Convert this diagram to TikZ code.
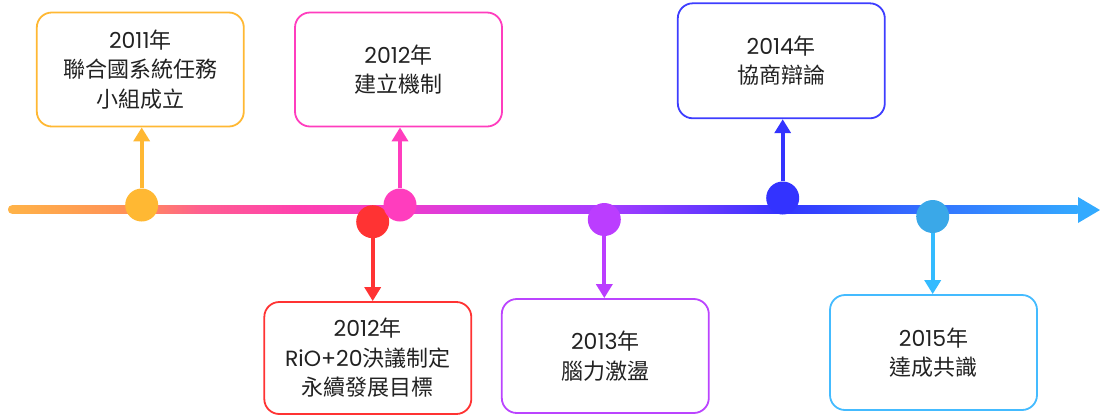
\documentclass[tikz,border=0pt]{standalone}
\usepackage{fontspec}
\setmainfont{Noto Sans CJK TC}
\newfontfamily\lat{Poppins}
\usetikzlibrary{arrows.meta}
\definecolor{txt}{HTML}{222222}
\definecolor{corange}{HTML}{FFB833}
\definecolor{cpink}{HTML}{FF3DBE}
\definecolor{cred}{HTML}{FF3333}
\definecolor{cpurple}{HTML}{BB3DFF}
\definecolor{cblue}{HTML}{3333FF}
\definecolor{clblue}{HTML}{3AA8E8}
\definecolor{alblue}{HTML}{33BBFF}
\definecolor{bpurple}{HTML}{BB44FF}
\definecolor{bblue}{HTML}{3D3DFF}
\definecolor{blblue}{HTML}{44BBFF}
\definecolor{tA}{HTML}{FFB347}
\definecolor{tB}{HTML}{FF8C5A}
\definecolor{tC}{HTML}{FF5F8F}
\definecolor{tD}{HTML}{FF40B0}
\definecolor{tE}{HTML}{F03CC8}
\definecolor{tF}{HTML}{C83CF0}
\definecolor{tG}{HTML}{A83CFF}
\definecolor{tH}{HTML}{6A38FF}
\definecolor{tI}{HTML}{3333FF}
\definecolor{tJ}{HTML}{3366FF}
\definecolor{tK}{HTML}{33AAFF}
\pgfdeclarehorizontalshading{tlshade}{100bp}{color(0bp)=(tA); color(25bp)=(tA); color(31.2bp)=(tB); color(33.9bp)=(tC); color(38.6bp)=(tD); color(43.3bp)=(tE); color(47.9bp)=(tF); color(52.8bp)=(tG); color(57.2bp)=(tH); color(61bp)=(tI); color(66.5bp)=(tJ); color(75bp)=(tK); color(100bp)=(tK)}
\begin{document}
\begin{tikzpicture}[x=1pt,y=-1pt,
  evbox/.style={draw=#1, line width=1.8pt, rounded corners=15pt, fill=white,
    minimum width=207pt, minimum height=114pt, align=center, text=txt,
    font=\fontsize{22}{29.5}\selectfont, inner sep=0pt},
  evdot/.style={circle, fill=#1, minimum size=33pt, inner sep=0pt},
  conn/.style={draw=#1, line width=4pt, -{Triangle[length=14pt,width=16pt]}}]
\useasboundingbox (0,0) rectangle (1100,416);
% timeline
\coordinate (tlstart) at (8,209.5);
\coordinate (tlend) at (1081,209.5);
\coordinate (tltip) at (1100,210);
\shade[shading=tlshade, rounded corners=4pt] ([yshift=-4.3pt]tlstart) rectangle ([yshift=4.3pt]tlend);
\fill[tK] ([xshift=-22pt,yshift=13pt]tltip) -- (tltip) -- ([xshift=-22pt,yshift=-13pt]tltip) -- cycle;
% boxes
\node[evbox=corange] (b1) at (140.3,69.5) {{\lat 2011}年\\聯合國系統任務\\小組成立};
\node[evbox=cpink] (b2) at (398.5,69.5) {{\lat 2012}年\\建立機制};
\node[evbox=cred, minimum height=112pt] (b3) at (367.8,358) {{\lat 2012}年\\{\lat RiO+20}決議制定\\永續發展目標};
\node[evbox=bpurple] (b4) at (605.3,356) {{\lat 2013}年\\腦力激盪};
\node[evbox=bblue, minimum height=115pt] (b5) at (781.3,60.8) {{\lat 2014}年\\協商辯論};
\node[evbox=blblue, minimum height=115pt] (b6) at (933.5,352.5) {{\lat 2015}年\\達成共識};
% dots
\node[evdot=corange] (c1) at (141.7,205) {};
\node[evdot=cred] (c3) at (372.7,221.7) {};
\node[evdot=cpink] (c2) at (400,205) {};
\node[evdot=cpurple] (c4) at (604.3,219.5) {};
\node[evdot=cblue] (c5) at (782.7,198) {};
\node[evdot=clblue] (c6) at (932.7,216.5) {};
% connectors
\draw[conn=corange] (c1.north) -- (c1.north |- b1.south);
\draw[conn=cpink] (c2.north) -- (c2.north |- b2.south);
\draw[conn=cred] (c3.south) -- (c3.south |- b3.north);
\draw[conn=cpurple] (c4.south) -- (c4.south |- b4.north);
\draw[conn=cblue] (c5.north) -- (c5.north |- b5.south);
\draw[conn=alblue] (c6.south) -- (c6.south |- b6.north);
\end{tikzpicture}
\end{document}
